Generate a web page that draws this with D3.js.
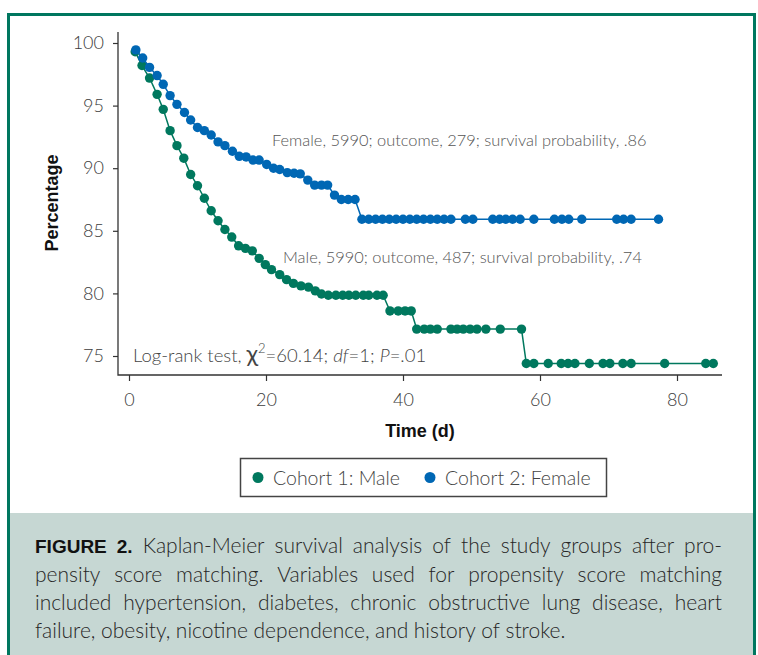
<!DOCTYPE html>
<meta charset="utf-8">
<script src="https://d3js.org/d3.v7.min.js"></script>
<style>
body { margin: 0; background: #fff; }
.tick text { fill: #3c3c3c; font-family: Lato, "Open Sans", sans-serif; font-weight: 300; font-size: 18px; }
.tick line { stroke: #333; stroke-width: 1.2; }
.note { fill: #555; font-family: Lato, "Open Sans", sans-serif; font-weight: 300; }
.axisTitle { fill: #111; font-family: "Liberation Sans", Arial, sans-serif; font-weight: bold; font-size: 18px; }
.cap { fill: #262626; font-family: Lato, "Open Sans", sans-serif; font-weight: 300; font-size: 21px; }
</style>
<body>
<div id="chart"></div>
<script>

// Cohort 1: Male
var maleTime = [0.9, 1.9, 3.0, 4.1, 5.0, 6.0, 7.0, 8.0, 9.0, 10.0,
  11.0, 12.0, 13.0, 14.0, 15.0, 16.0, 17.0, 18.0, 19.0, 19.9,
  20.8, 22.0, 23.0, 24.0, 25.1, 26.2, 27.2, 28.1,
  29.1, 30.2, 31.2, 32.1, 33.1, 34.2, 35.0, 36.2, 37.1,
  38.1, 39.3, 40.3, 41.2,
  42.0, 43.1, 44.0, 45.0, 47.0, 47.9, 48.8, 49.8, 50.8, 52.1, 54.2, 57.3,
  58.0, 59.1, 61.2, 63.1, 64.1, 65.1, 67.2, 69.2, 70.2, 72.1, 73.3, 78.2, 84.2, 85.3];
var maleSurv = [99.3, 98.2, 97.2, 95.9, 94.7, 93.0, 91.8, 90.8, 89.5, 88.6,
  87.6, 86.6, 85.8, 85.1, 84.5, 83.8, 83.6, 83.4, 82.8, 82.3,
  81.9, 81.5, 81.1, 80.8, 80.6, 80.5, 80.2, 79.95,
  79.85, 79.85, 79.85, 79.85, 79.85, 79.85, 79.85, 79.85, 79.85,
  78.6, 78.6, 78.6, 78.6,
  77.15, 77.15, 77.15, 77.15, 77.15, 77.15, 77.15, 77.15, 77.15, 77.15, 77.15, 77.15,
  74.4, 74.4, 74.4, 74.4, 74.4, 74.4, 74.4, 74.4, 74.4, 74.4, 74.4, 74.4, 74.4, 74.4];

// Cohort 2: Female
var femaleTime = [1.0, 2.0, 3.0, 4.1, 5.0, 6.0, 7.0, 8.1, 9.0, 10.0,
  11.0, 12.0, 13.0, 14.0, 15.1, 16.1, 17.1, 18.1, 19.0, 20.1,
  21.1, 22.0, 23.1, 24.1, 25.0, 26.1, 27.1, 28.1, 29.0, 30.0,
  31.0, 32.0, 33.0,
  34.0, 35.0, 36.0, 37.0, 38.0, 39.0, 40.0, 41.0, 42.0, 43.0, 44.0, 45.0, 46.0, 47.0,
  49.1, 50.2, 53.1, 54.1, 55.0, 56.0, 57.1, 59.1, 62.1, 63.2, 64.2, 66.1, 71.2, 72.2, 73.3, 77.3];
var femaleSurv = [99.45, 98.8, 98.05, 97.4, 96.7, 95.8, 95.1, 94.45, 93.85, 93.25,
  93.0, 92.65, 92.1, 91.8, 91.35, 90.95, 90.9, 90.65, 90.65, 90.3,
  90.0, 89.9, 89.65, 89.6, 89.55, 89.05, 88.65, 88.65, 88.65, 87.85,
  87.5, 87.5, 87.5,
  85.92, 85.92, 85.92, 85.92, 85.92, 85.92, 85.92, 85.92, 85.92, 85.92, 85.92, 85.92, 85.92, 85.92,
  85.92, 85.92, 85.92, 85.92, 85.92, 85.92, 85.92, 85.92, 85.92, 85.92, 85.92, 85.92, 85.92, 85.92, 85.92, 85.92];

var xTicks = [0, 20, 40, 60, 80];
var yTicks = [75, 80, 85, 90, 95, 100];
var seriesNames = ["Cohort 1: Male", "Cohort 2: Female"];
var seriesColors = ["#00785e", "#0067b4"];

var captionLines = [
  "FIGURE 2. Kaplan-Meier survival analysis of the study groups after pro-",
  "pensity score matching. Variables used for propensity score matching",
  "included hypertension, diabetes, chronic obstructive lung disease, heart",
  "failure, obesity, nicotine dependence, and history of stroke."
];

var W = 758, H = 655;

var svg = d3.select("#chart").append("svg")
    .attr("width", W)
    .attr("height", H);

// caption panel + green frame
svg.append("rect")
    .attr("x", 10).attr("y", 513)
    .attr("width", 744).attr("height", H - 513)
    .attr("fill", "#c6d7d3");
svg.append("rect")
    .attr("x", 8.5).attr("y", 14.5)
    .attr("width", 746).attr("height", H)
    .attr("fill", "none")
    .attr("stroke", "#00775f")
    .attr("stroke-width", 3);

// scales
var x = d3.scaleLinear().domain([0, 80]).range([129, 677]);
var y = d3.scaleLinear().domain([75, 100]).range([356, 43]);

var axisX0 = 118, axisY0 = 375;

// y axis
var gy = svg.append("g")
    .attr("transform", "translate(" + axisX0 + ",0)")
    .call(d3.axisLeft(y).tickValues(yTicks).tickSize(5).tickPadding(9));
gy.select(".domain").remove();

// x axis
var gx = svg.append("g")
    .attr("transform", "translate(0," + axisY0 + ")")
    .call(d3.axisBottom(x).tickValues(xTicks).tickSize(6).tickPadding(12));
gx.select(".domain").remove();

svg.append("path")
    .attr("d", "M" + axisX0 + "," + 32 + "V" + axisY0 + "H" + 722)
    .attr("fill", "none")
    .attr("stroke", "#333")
    .attr("stroke-width", 1.3);

// axis titles
svg.append("text")
    .attr("class", "axisTitle")
    .attr("transform", "translate(58,203) rotate(-90)")
    .attr("text-anchor", "middle")
    .text("Percentage");
svg.append("text")
    .attr("class", "axisTitle")
    .attr("x", 420).attr("y", 437)
    .attr("text-anchor", "middle")
    .text("Time (d)");

// curves
var line = d3.line()
    .x(function(d) { return x(d.t); })
    .y(function(d) { return y(d.s); });

var series = [
  maleTime.map(function(t, i) { return {t: t, s: maleSurv[i]}; }),
  femaleTime.map(function(t, i) { return {t: t, s: femaleSurv[i]}; })
];

series.forEach(function(pts, k) {
  svg.append("path")
      .datum(pts)
      .attr("fill", "none")
      .attr("stroke", seriesColors[k])
      .attr("stroke-width", 1.5)
      .attr("d", line);
  svg.append("g").selectAll("circle")
      .data(pts)
    .enter().append("circle")
      .attr("cx", function(d) { return x(d.t); })
      .attr("cy", function(d) { return y(d.s); })
      .attr("r", 4.7)
      .attr("fill", seriesColors[k]);
});

// annotations
svg.append("text")
    .attr("class", "note")
    .attr("x", 272).attr("y", 146)
    .style("font-size", "16.4px")
    .text("Female, 5990; outcome, 279; survival probability, .86");
svg.append("text")
    .attr("class", "note")
    .attr("x", 283).attr("y", 263)
    .style("font-size", "16.4px")
    .text("Male, 5990; outcome, 487; survival probability, .74");

var lr = svg.append("text")
    .attr("class", "note")
    .attr("x", 133).attr("y", 362)
    .style("font-size", "18.5px")
    .style("fill", "#444");
lr.append("tspan").text("Log-rank test, ");
lr.append("tspan").text("χ").style("font-size", "24px").style("font-weight", 400);
lr.append("tspan").text("2").attr("dy", -9).style("font-size", "13px");
lr.append("tspan").text("=60.14; ").attr("dy", 9);
lr.append("tspan").text("df").style("font-style", "italic");
lr.append("tspan").text("=1; ");
lr.append("tspan").text("P").style("font-style", "italic");
lr.append("tspan").text("=.01");

// legend
svg.append("rect")
    .attr("x", 240.5).attr("y", 458.5)
    .attr("width", 366).attr("height", 38)
    .attr("fill", "#fff")
    .attr("stroke", "#444")
    .attr("stroke-width", 1.5);
var legX = [258, 430];
seriesNames.forEach(function(name, k) {
  svg.append("circle")
      .attr("cx", legX[k]).attr("cy", 477.5)
      .attr("r", 5.5)
      .attr("fill", seriesColors[k]);
  svg.append("text")
      .attr("class", "note")
      .attr("x", legX[k] + 15).attr("y", 484.5)
      .style("font-size", "19.5px")
      .style("fill", "#444")
      .text(name);
});

// caption, justified line by line
var capLeft = 35, capRight = 722;
var capBase = [553, 582, 610, 638];
captionLines.forEach(function(str, li) {
  var words = str.split(" ");
  var nodes = words.map(function(w, wi) {
    var t = svg.append("text")
        .attr("class", "cap")
        .attr("y", capBase[li])
        .text(w);
    if (li === 0 && wi < 2) t.style("font-weight", "bold").style("font-family", "\"Liberation Sans\", Arial, sans-serif").style("font-size", "19px").style("fill", "#111");
    return t;
  });
  var widths = nodes.map(function(t) { return t.node().getComputedTextLength(); });
  var total = d3.sum(widths);
  var gap = (li === captionLines.length - 1) ? 5.5 : (capRight - capLeft - total) / (words.length - 1);
  var cx = capLeft;
  nodes.forEach(function(t, i) {
    t.attr("x", cx);
    cx += widths[i] + gap;
  });
});

</script>
</body>
</html>
